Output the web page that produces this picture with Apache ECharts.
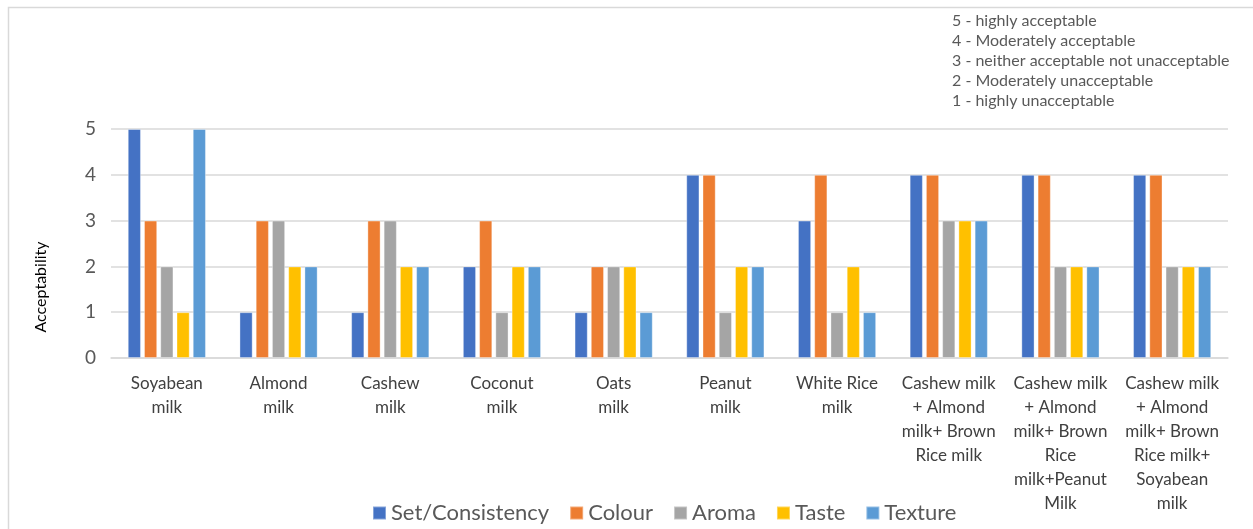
<!DOCTYPE html>
<html>
<head>
<meta charset="utf-8">
<script src="https://cdn.jsdelivr.net/npm/echarts@6/dist/echarts.min.js"></script>
<style>
  html, body { margin: 0; padding: 0; background: #fff; }
  #chart { width: 1253px; height: 529px; }
</style>
</head>
<body>
<div id="chart"></div>
<script>
// Plant-based milk acceptability scores (1-5 scale)
const categories = [
  'Soyabean\nmilk',
  'Almond\nmilk',
  'Cashew\nmilk',
  'Coconut\nmilk',
  'Oats\nmilk',
  'Peanut\nmilk',
  'White Rice\nmilk',
  'Cashew milk\n+ Almond\nmilk+ Brown\nRice milk',
  'Cashew milk\n+ Almond\nmilk+ Brown\nRice\nmilk+Peanut\nMilk',
  'Cashew milk\n+ Almond\nmilk+ Brown\nRice milk+\nSoyabean\nmilk'
];
const seriesNames = ['Set/Consistency', 'Colour', 'Aroma', 'Taste', 'Texture'];
const consistency = [5, 1, 1, 2, 1, 4, 3, 4, 4, 4];
const colour      = [3, 3, 3, 3, 2, 4, 4, 4, 4, 4];
const aroma       = [2, 3, 3, 1, 2, 1, 1, 3, 2, 2];
const taste       = [1, 2, 2, 2, 2, 2, 2, 3, 2, 2];
const texture     = [5, 2, 2, 2, 1, 2, 1, 3, 2, 2];
const yTicks = [0, 1, 2, 3, 4, 5];
const yTitle = 'Acceptability';
const scaleNotes = [
  '5 - highly acceptable',
  '4 - Moderately acceptable',
  '3 - neither acceptable not unacceptable',
  '2 - Moderately unacceptable',
  '1 - highly unacceptable'
];

const palette = ['#4472C4', '#ED7D31', '#A5A5A5', '#FFC000', '#5B9BD5'];
const seriesData = [consistency, colour, aroma, taste, texture];
const fontFamily = 'Lato, "Open Sans", sans-serif';

const chart = echarts.init(document.getElementById('chart'), null, { renderer: 'canvas' });

chart.setOption({
  animation: false,
  color: palette,
  grid: { left: 111, right: 25, top: 129, bottom: 171 },
  graphic: [
    {
      type: 'rect',
      shape: { x: 8.5, y: 7.5, width: 1300, height: 600 },
      style: { fill: 'none', stroke: '#d9d9d9', lineWidth: 1.5 },
      silent: true
    },
    {
      type: 'text',
      left: 952,
      top: 11,
      style: {
        text: scaleNotes.join('\n'),
        fill: '#595959',
        font: '16px ' + fontFamily,
        lineHeight: 20
      }
    },
    {
      type: 'text',
      x: 41,
      y: 287,
      rotation: Math.PI / 2,
      style: {
        text: yTitle,
        fill: '#000',
        font: '16px ' + fontFamily,
        align: 'center',
        verticalAlign: 'middle'
      }
    }
  ],
  legend: {
    bottom: 0,
    left: 367,
    itemWidth: 13,
    itemHeight: 13,
    itemGap: 20,
    icon: 'rect',
    textStyle: { fontSize: 22, color: '#595959', fontFamily: fontFamily },
    data: seriesNames
  },
  xAxis: {
    type: 'category',
    data: categories,
    axisLine: { lineStyle: { color: '#d9d9d9', width: 1.5 } },
    axisTick: { show: false },
    axisLabel: {
      interval: 0,
      margin: 14,
      fontSize: 17,
      lineHeight: 24,
      color: '#404040',
      fontFamily: fontFamily,
      verticalAlign: 'top'
    }
  },
  yAxis: {
    type: 'value',
    min: yTicks[0],
    max: yTicks[yTicks.length - 1],
    interval: 1,
    axisLine: { show: false },
    axisTick: { show: false },
    axisLabel: { fontSize: 19, color: '#595959', margin: 15, fontFamily: fontFamily },
    splitLine: { lineStyle: { color: '#d9d9d9', width: 1.5 } }
  },
  series: seriesNames.map((name, i) => ({
    name: name,
    type: 'bar',
    data: seriesData[i],
    barGap: '23%',
    barCategoryGap: '30%',
    itemStyle: { color: palette[i], borderColor: 'rgba(255,255,255,0.35)', borderWidth: 1 }
  }))
});
</script>
</body>
</html>
